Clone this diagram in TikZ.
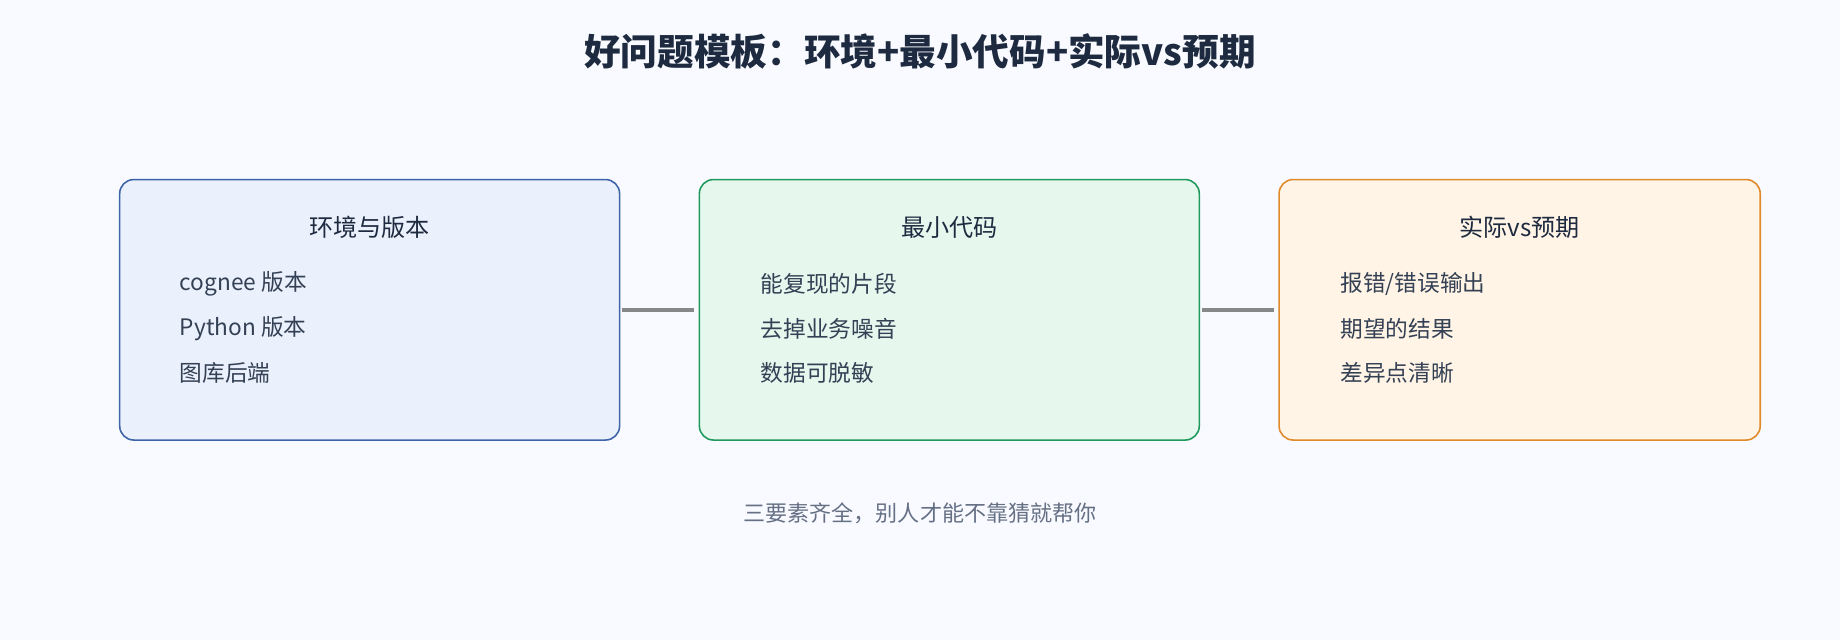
\documentclass[tikz,border=0pt]{standalone}
\usepackage{fontspec}
\setmainfont{Noto Sans CJK SC}
\usetikzlibrary{positioning}
\definecolor{bgc}{HTML}{F8FAFF}
\definecolor{titlec}{HTML}{1E2A3F}
\definecolor{textc}{HTML}{344054}
\definecolor{notec}{HTML}{667085}
\definecolor{envfill}{HTML}{EAF1FC}
\definecolor{envdraw}{HTML}{3D63A8}
\definecolor{codefill}{HTML}{E6F7EE}
\definecolor{codedraw}{HTML}{1F9A5C}
\definecolor{cmpfill}{HTML}{FFF4E6}
\definecolor{cmpdraw}{HTML}{E08A2A}
\definecolor{linkc}{HTML}{888888}
\begin{document}
\begin{tikzpicture}[x=0.75pt, y=-0.75pt,
card/.style={draw, rounded corners=9pt, line width=1pt, minimum width=319.5pt, minimum height=166.5pt, inner sep=0pt},
head/.style={font=\fontsize{15.4}{18}\selectfont, text=titlec},
item/.style={font=\fontsize{14.5}{17}\selectfont, text=textc, anchor=west, inner sep=0pt},
link/.style={draw=linkc, line width=2.2pt}]
\fill[bgc] (0,0) rectangle (1568,545);
\useasboundingbox (0,0) rectangle (1568,545);
\node (title) at (784,44) {\fontsize{23.4}{27}\selectfont\bfseries\color{titlec}好问题模板：环境+最小代码+实际vs预期};
\node[card, draw=envdraw, fill=envfill] (env) at (315,264) {};
\node[card, draw=codedraw, fill=codefill] (code) at (809,264) {};
\node[card, draw=cmpdraw, fill=cmpfill, minimum width=307.5pt] (cmp) at (1295,264) {};
\node[head] (envH) at (315,194) {环境与版本};
\node[head] (codeH) at (809,194) {最小代码};
\node[head] (cmpH) at (1295,194) {实际vs预期};
\node[item] (env1) at (153,242) {cognee 版本};
\node[item] (env2) at (153,280) {Python 版本};
\node[item] (env3) at (153,318) {图库后端};
\node[item] (code1) at (648,242) {能复现的片段};
\node[item] (code2) at (648,280) {去掉业务噪音};
\node[item] (code3) at (648,318) {数据可脱敏};
\node[item] (cmp1) at (1142,242) {报错/错误输出};
\node[item] (cmp2) at (1142,280) {期望的结果};
\node[item] (cmp3) at (1142,318) {差异点清晰};
\node (note) at (784,437) {\fontsize{14.1}{17}\selectfont\color{notec}三要素齐全，别人才能不靠猜就帮你};
\draw[link] ([xshift=1pt]env.east) -- ([xshift=-3pt]code.west);
\draw[link] ([xshift=1pt]code.east) -- ([xshift=-3pt]cmp.west);
\end{tikzpicture}
\end{document}
